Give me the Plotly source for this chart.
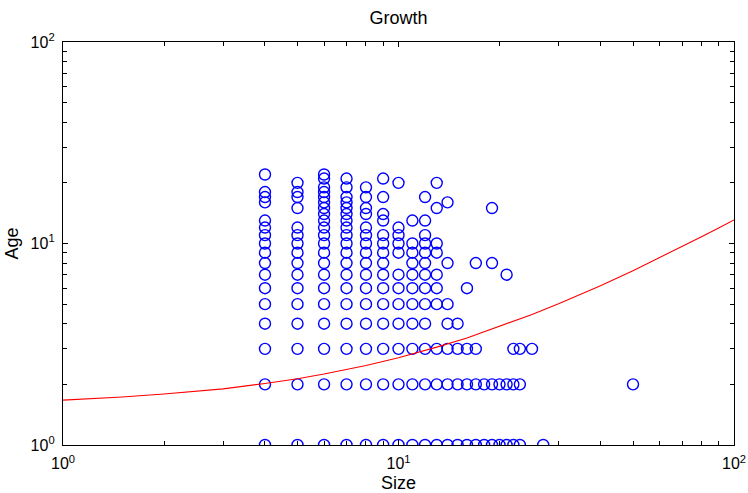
import plotly.graph_objects as go

# Observed data: sizes (x) and the ages (y) found at each size
sizes = [4, 5, 6, 7, 8, 9, 10, 11, 12, 13, 14, 15, 16, 17, 18, 19, 20, 21, 22, 23, 25, 27, 50]
ages_per_size = [
    [1, 2, 3, 4, 5, 6, 7, 8, 9, 10, 11, 12, 13, 16, 17, 18, 22],
    [1, 2, 3, 4, 5, 6, 7, 8, 9, 10, 11, 12, 15, 17, 18, 20],
    [1, 2, 3, 4, 5, 6, 7, 8, 9, 10, 11, 12, 13, 14, 15, 16, 17, 18, 19, 21, 22],
    [1, 2, 3, 4, 5, 6, 7, 8, 9, 10, 11, 12, 13, 14, 15, 16, 17, 19, 21],
    [1, 2, 3, 4, 5, 6, 7, 8, 9, 10, 11, 12, 14, 15, 17, 19],
    [1, 2, 3, 4, 5, 6, 7, 8, 9, 10, 11, 13, 14, 17, 21],
    [1, 2, 3, 4, 5, 6, 7, 9, 10, 11, 12, 20],
    [1, 2, 3, 4, 5, 6, 7, 8, 9, 10, 13],
    [1, 2, 3, 4, 5, 6, 7, 8, 9, 10, 11, 13, 17],
    [1, 2, 3, 5, 6, 7, 9, 10, 15, 20],
    [1, 2, 3, 4, 5, 8, 16],
    [1, 2, 3, 4],
    [1, 2, 3, 6],
    [1, 2, 3, 8],
    [1, 2],
    [1, 2, 8, 15],
    [1, 2],
    [1, 2, 7],
    [1, 2, 3],
    [1, 2, 3],
    [3],
    [1],
    [2],
]

# Fitted growth curve
curve_size = [1, 1.5, 2, 3, 4, 5, 6, 8, 10, 13, 16, 20, 25, 30, 40, 50, 60, 70, 80, 90, 100]
curve_age = [1.67, 1.73, 1.79, 1.90, 2.02, 2.13, 2.25, 2.48, 2.71, 3.06, 3.40, 3.87, 4.44,
             5.02, 6.17, 7.33, 8.49, 9.64, 10.8, 11.95, 13.1]

tick_vals = [1, 10, 100]
tick_text = ["10<sup>0</sup>", "10<sup>1</sup>", "10<sup>2</sup>"]
minor_vals = [2, 3, 4, 5, 6, 7, 8, 9, 20, 30, 40, 50, 60, 70, 80, 90]

xs, ys = [], []
for s, al in zip(sizes, ages_per_size):
    for a in al:
        xs.append(s)
        ys.append(a)

FONT = "Liberation Sans, Arial, sans-serif"

fig = go.Figure()
fig.add_trace(go.Scatter(
    x=xs, y=ys, mode="markers",
    marker=dict(symbol="circle-open", size=11, color="#0000ff", line=dict(width=1.4, color="#0000ff")),
    showlegend=False,
))
fig.add_trace(go.Scatter(
    x=curve_size, y=curve_age, mode="lines",
    line=dict(color="#ff0000", width=1.1), showlegend=False,
))

axis_common = dict(
    type="log", automargin=False,
    showline=True, linecolor="black", linewidth=1.3, mirror="ticks",
    ticks="inside", ticklen=5, tickwidth=1, tickcolor="black",
    tickmode="array", tickvals=tick_vals, ticktext=tick_text,
    showgrid=False, zeroline=False,
    tickfont=dict(family=FONT, size=16, color="black"),
    minor=dict(tickmode="array", tickvals=minor_vals, ticks="inside", ticklen=4,
               tickwidth=1, tickcolor="black", showgrid=False),
)

W, H = 748, 493
ML, MR, MT, MB = 63, 14, 42, 48

fig.update_layout(
    width=W, height=H,
    paper_bgcolor="white", plot_bgcolor="white",
    margin=dict(l=ML, r=MR, t=MT, b=MB),
    title=dict(text="Growth", x=(ML + (W - MR - ML) / 2) / W, xanchor="center",
               yref="container", y=1 - 18 / H, yanchor="middle",
               automargin=False, font=dict(family=FONT, size=18, color="black")),
    xaxis=dict(range=[0, 2], ticklabelstandoff=4,
               title=dict(text="Size", standoff=9, font=dict(family=FONT, size=18, color="black")),
               **axis_common),
    yaxis=dict(range=[0, 2], ticklabelstandoff=4,
               title=dict(text="Age", standoff=7, font=dict(family=FONT, size=18, color="black")),
               **axis_common),
)

# Remove the default page margin so the figure fills the window exactly
fig.write_html(
    "out.html",
    config={"displayModeBar": False},
    post_script="document.body.style.margin='0';document.documentElement.style.overflow='hidden';",
)
